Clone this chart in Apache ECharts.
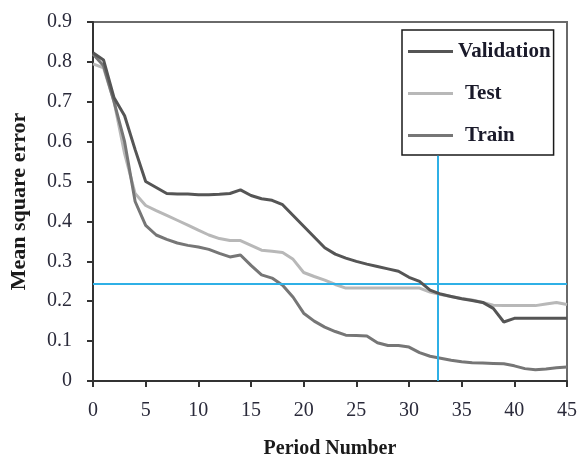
<!DOCTYPE html>
<html>
<head>
<meta charset="utf-8">
<script src="https://cdn.jsdelivr.net/npm/echarts@6/dist/echarts.min.js"></script>
<style>
  html, body { margin: 0; padding: 0; background: #fff; }
  #chart { width: 579px; height: 462px; }
</style>
</head>
<body>
<div id="chart"></div>
<script>
// Training periods (epochs)
const periods = [];
for (let p = 0; p <= 45; p++) periods.push(p);

// Mean square error per period
const validation = [
  0.823, 0.805, 0.710, 0.665, 0.580, 0.500, 0.485, 0.470, 0.469, 0.469,
  0.467, 0.467, 0.468, 0.470, 0.479, 0.465, 0.457, 0.453, 0.442, 0.415,
  0.388, 0.361, 0.334, 0.318, 0.308, 0.300, 0.293, 0.287, 0.281, 0.275,
  0.260, 0.250, 0.228, 0.218, 0.212, 0.206, 0.202, 0.197, 0.182, 0.148,
  0.157, 0.157, 0.157, 0.157, 0.157, 0.157
];
const test = [
  0.795, 0.785, 0.700, 0.570, 0.470, 0.440, 0.427, 0.415, 0.403, 0.391,
  0.378, 0.366, 0.357, 0.352, 0.352, 0.340, 0.328, 0.325, 0.322, 0.305,
  0.272, 0.262, 0.253, 0.242, 0.233, 0.233, 0.233, 0.233, 0.233, 0.233,
  0.233, 0.233, 0.223, 0.217, 0.212, 0.207, 0.203, 0.197, 0.190, 0.189,
  0.189, 0.189, 0.189, 0.193, 0.197, 0.192
];
const train = [
  0.820, 0.790, 0.700, 0.600, 0.450, 0.390, 0.366, 0.355, 0.346, 0.340,
  0.336, 0.330, 0.320, 0.311, 0.316, 0.290, 0.266, 0.258, 0.240, 0.210,
  0.170, 0.150, 0.135, 0.124, 0.115, 0.114, 0.113, 0.096, 0.089, 0.089,
  0.085, 0.071, 0.062, 0.057, 0.052, 0.048, 0.046, 0.045, 0.044, 0.043,
  0.038, 0.031, 0.028, 0.030, 0.033, 0.035
];

// Reference lines: error threshold and chosen stopping period
const errorThreshold = 0.243;
const stopPeriod = 32.7;
const stopLineTop = 0.565;

const pairs = arr => periods.map((p, i) => [p, arr[i]]);
const serif = '"Liberation Serif", "Times New Roman", serif';
const blue = '#2fb0e6';

const chart = echarts.init(document.getElementById('chart'), null, { renderer: 'canvas' });

chart.setOption({
  animation: false,
  backgroundColor: '#fff',
  grid: {
    left: 93, right: 12, top: 22, bottom: 81,
    containLabel: false,
    outerBoundsMode: 'none',
    show: true, borderColor: '#6a6a6a', borderWidth: 2,
    backgroundColor: 'transparent'
  },
  legend: {
    orient: 'vertical',
    left: 402, top: 30,
    padding: [11, 3, 9, 6],
    itemGap: 21,
    itemWidth: 45,
    itemHeight: 3,
    icon: 'rect',
    borderColor: '#1a1a1a',
    borderWidth: 1.5,
    backgroundColor: '#fff',
    formatter: name => name === 'Validation' ? '{v|' + name + '}' : '{o|' + name + '}',
    textStyle: {
      fontFamily: serif, fontWeight: 'bold', fontSize: 21, color: '#1a1a2a',
      rich: {
        v: { fontFamily: serif, fontWeight: 'bold', fontSize: 21, color: '#1a1a2a', padding: [0, 0, 0, 0] },
        o: { fontFamily: serif, fontWeight: 'bold', fontSize: 21, color: '#1a1a2a', padding: [0, 0, 0, 7] }
      }
    },
    data: ['Validation', 'Test', 'Train']
  },
  xAxis: {
    type: 'value',
    min: 0, max: 45, interval: 5,
    name: 'Period Number',
    nameLocation: 'middle',
    nameGap: 58,
    nameTextStyle: { fontFamily: serif, fontWeight: 'bold', fontSize: 20, color: '#1a1a1a' },
    axisLine: { lineStyle: { color: '#333', width: 2 } },
    axisTick: { show: true, inside: false, length: 6, lineStyle: { color: '#333', width: 2 } },
    axisLabel: { fontFamily: serif, fontSize: 20, color: '#2a2a3a', margin: 20 },
    splitLine: { show: false }
  },
  yAxis: {
    type: 'value',
    min: 0, max: 0.9, interval: 0.1,
    name: 'Mean square error',
    nameLocation: 'middle',
    nameGap: 63,
    nameRotate: 90,
    nameTextStyle: { fontFamily: serif, fontWeight: 'bold', fontSize: 22, color: '#1a1a1a' },
    axisLine: { show: true, lineStyle: { color: '#333', width: 2 } },
    axisTick: { show: true, inside: false, length: 6, lineStyle: { color: '#333', width: 2 } },
    axisLabel: {
      fontFamily: serif, fontSize: 20, color: '#2a2a3a', margin: 21,
      formatter: v => String(parseFloat(v.toFixed(1)))
    },
    splitLine: { show: false }
  },
  series: [
    {
      name: 'Test', type: 'line', data: pairs(test),
      showSymbol: false, smooth: false, z: 3,
      color: '#b8b8b8',
      lineStyle: { color: '#b8b8b8', width: 3 }
    },
    {
      name: 'Train', type: 'line', data: pairs(train),
      showSymbol: false, smooth: false, z: 4,
      color: '#767676',
      lineStyle: { color: '#767676', width: 3 }
    },
    {
      name: 'Validation', type: 'line', data: pairs(validation),
      showSymbol: false, smooth: false, z: 5,
      color: '#555555',
      lineStyle: { color: '#555555', width: 3 },
      markLine: {
        silent: true,
        symbol: 'none',
        label: { show: false },
        lineStyle: { color: blue, width: 2, type: 'solid' },
        data: [
          [{ coord: [0, errorThreshold] }, { coord: [45, errorThreshold] }],
          [{ coord: [stopPeriod, 0] }, { coord: [stopPeriod, stopLineTop] }]
        ]
      }
    }
  ]
});
</script>
</body>
</html>
